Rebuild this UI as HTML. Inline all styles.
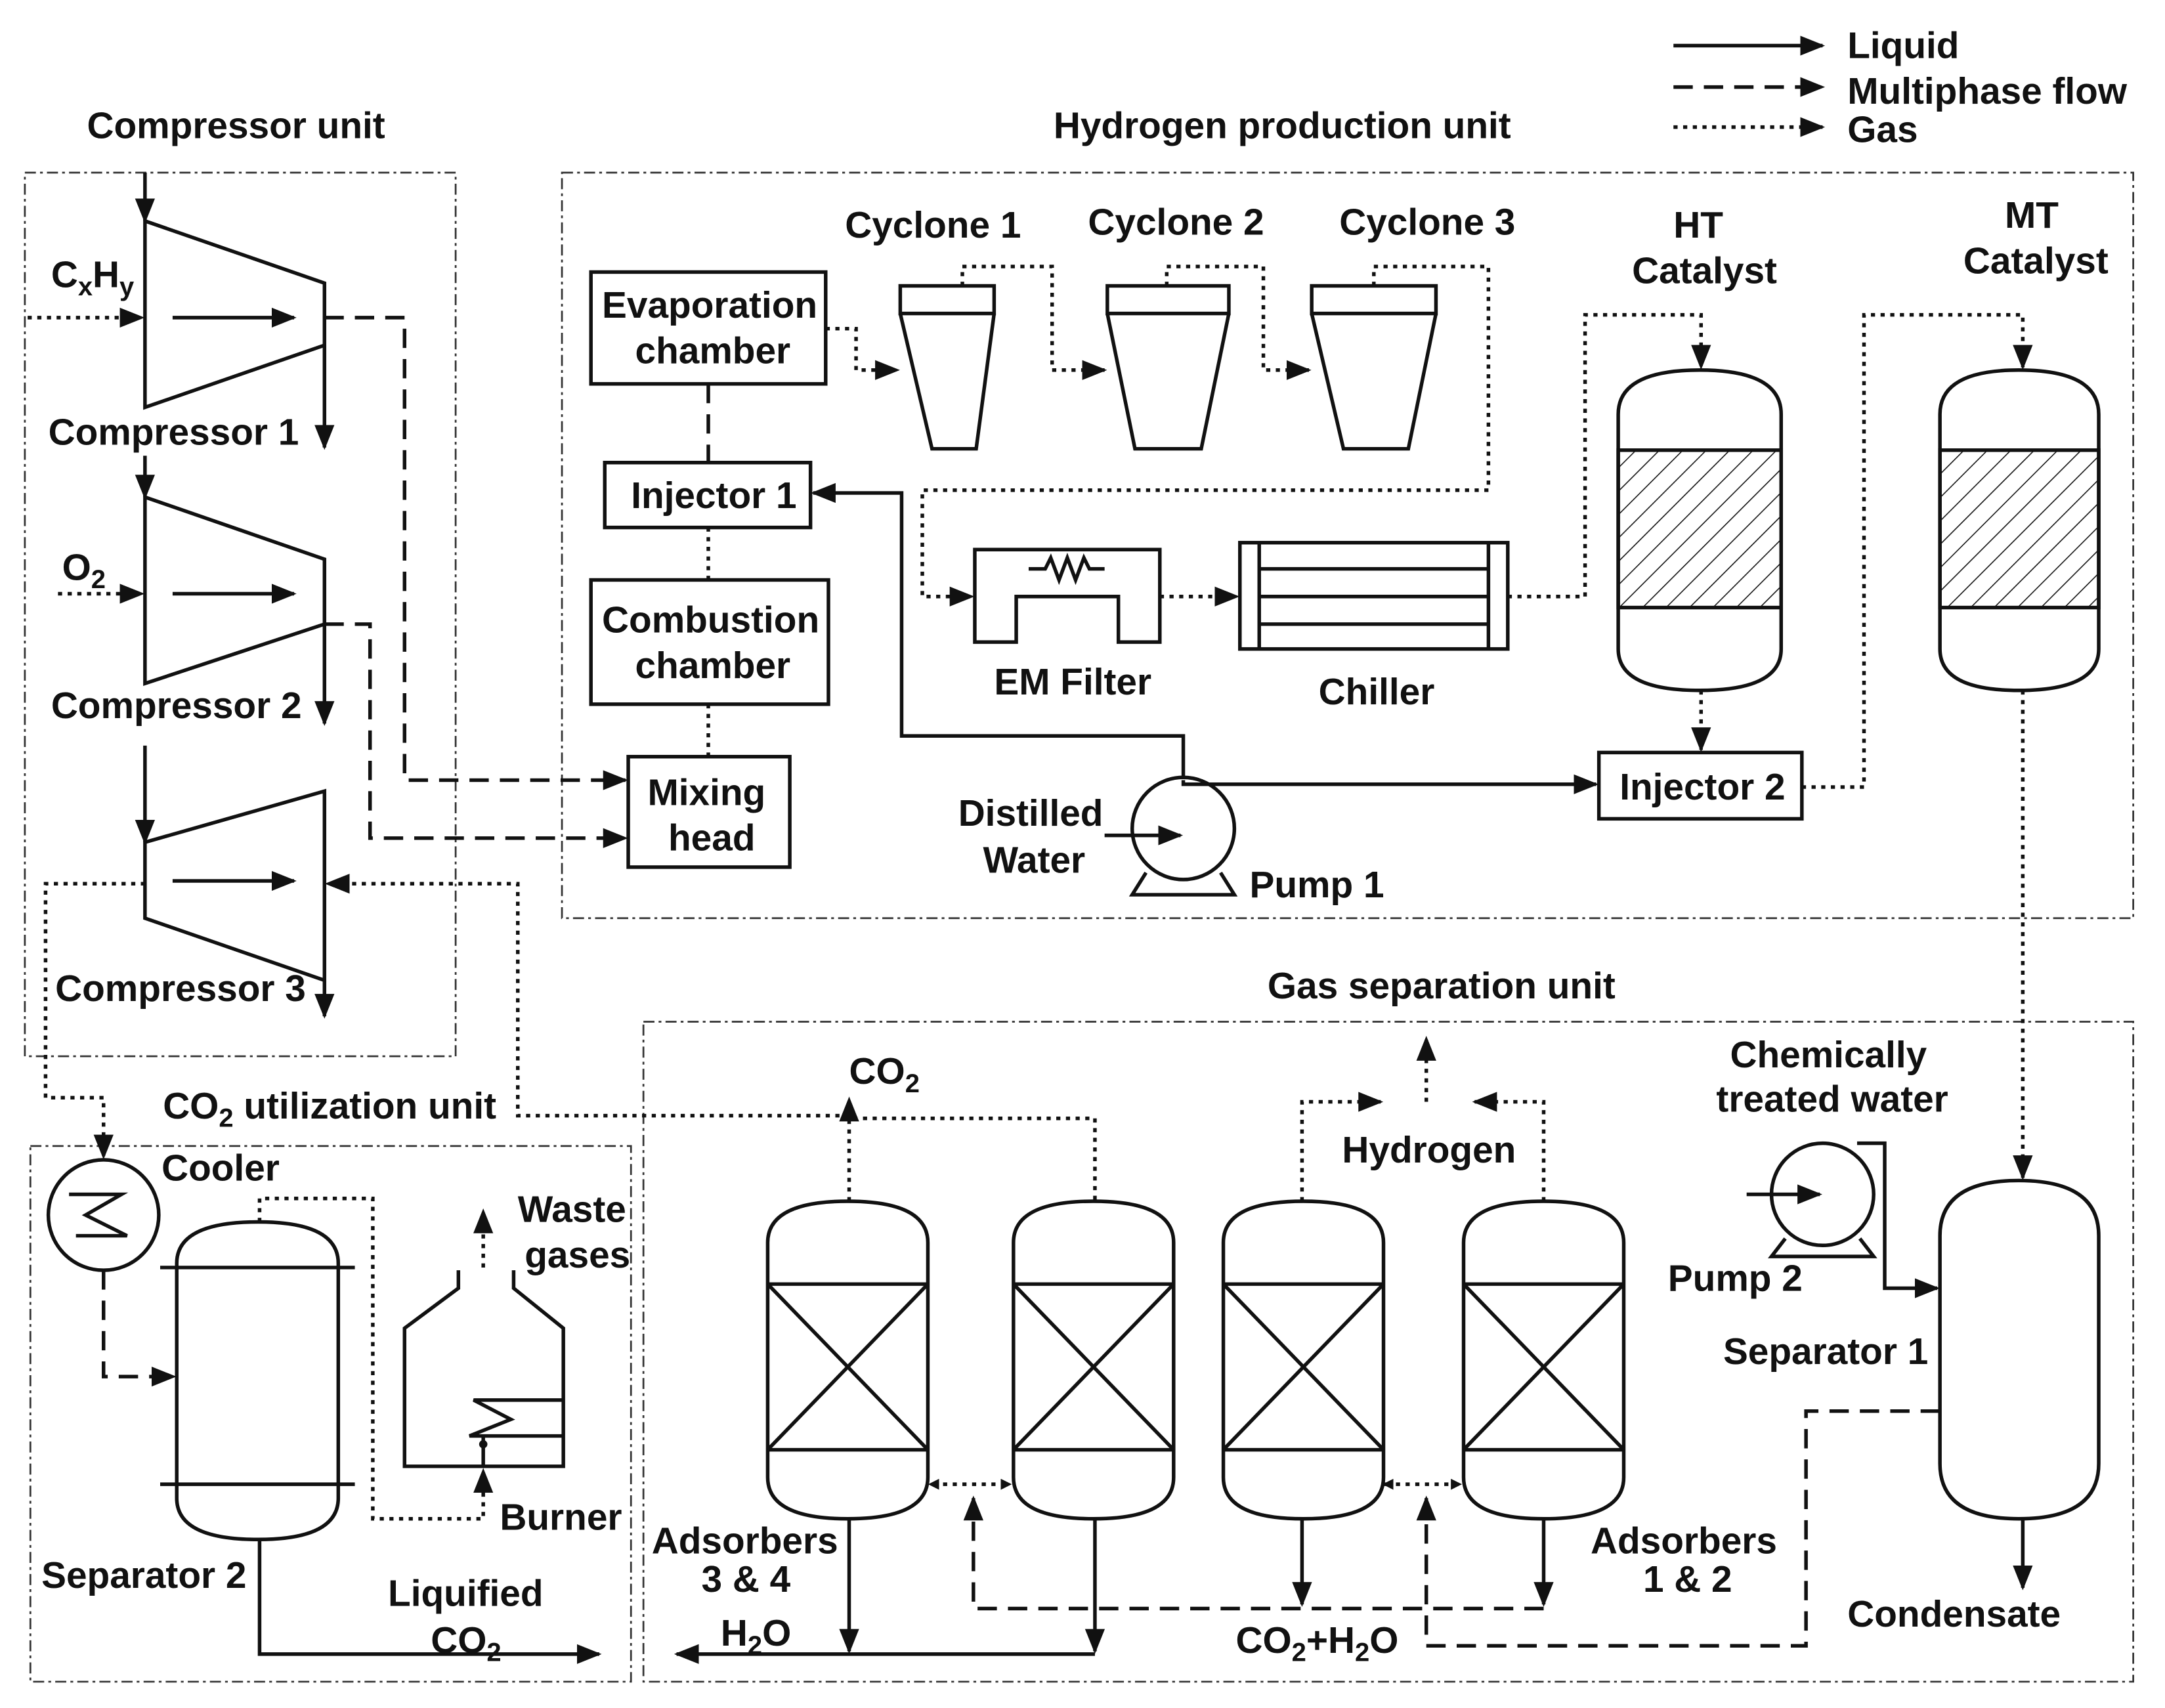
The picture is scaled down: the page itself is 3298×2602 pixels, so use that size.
<!DOCTYPE html>
<html><head><meta charset="utf-8"><style>
html,body{margin:0;padding:0;background:#fff}
svg{display:block}
text{font-family:"Liberation Sans",Arial,sans-serif;font-weight:bold;font-size:27px;fill:#111}
.s{stroke:#111;stroke-width:2.6;fill:none}
.d{stroke:#111;stroke-width:2.6;fill:none;stroke-dasharray:14 8}
.g{stroke:#111;stroke-width:2.6;fill:none;stroke-dasharray:3 4}
.b{stroke:#333;stroke-width:1.3;fill:none;stroke-dasharray:8 3 2 3}
.w{stroke:#111;stroke-width:2.6;fill:#fff}
</style></head><body>
<svg width="3298" height="2602" viewBox="0 0 1568 1237" xmlns="http://www.w3.org/2000/svg">
<defs>
<marker id="a" viewBox="0 0 10 10" refX="9" refY="5" markerWidth="8" markerHeight="8" markerUnits="userSpaceOnUse" orient="auto"><path d="M0,0 L10,5 L0,10 z" fill="#111"/></marker>
<marker id="A" viewBox="0 0 10 10" refX="9" refY="5" markerWidth="18" markerHeight="18" markerUnits="userSpaceOnUse" orient="auto"><path d="M0,1 L10,5 L0,9 z" fill="#111"/></marker>
<pattern id="h" width="12" height="12" patternUnits="userSpaceOnUse" patternTransform="rotate(45)"><line x1="0" y1="0" x2="0" y2="12" stroke="#111" stroke-width="1.5"/></pattern>
</defs>
<!-- legend -->
<line class="s" x1="1212" y1="33" x2="1320" y2="33" marker-end="url(#A)"/>
<line class="d" x1="1212" y1="63" x2="1320" y2="63" marker-end="url(#A)"/>
<line class="g" x1="1212" y1="92" x2="1320" y2="92" marker-end="url(#A)"/>
<text x="1338" y="42">Liquid</text><text x="1338" y="75">Multiphase flow</text><text x="1338" y="103">Gas</text>
<!-- unit boxes -->
<text x="63" y="100">Compressor unit</text>
<text x="763" y="100">Hydrogen production unit</text>
<text x="918" y="723">Gas separation unit</text>
<text x="118" y="810">CO<tspan font-size="19" dy="6">2</tspan><tspan dy="-6"> utilization unit</tspan></text>
<rect class="b" x="18" y="125" width="312" height="640"/>
<rect class="b" x="407" y="125" width="1138" height="540"/>
<rect class="b" x="466" y="740" width="1079" height="478"/>
<rect class="b" x="22" y="830" width="435" height="388"/>
<!-- compressor 1 -->
<path class="s" d="M105,160 L235,205 L235,250 L105,295 Z"/>
<line class="s" x1="105" y1="125" x2="105" y2="160" marker-end="url(#A)"/>
<line class="g" x1="20" y1="230" x2="103" y2="230" marker-end="url(#A)"/>
<line class="s" x1="125" y1="230" x2="213" y2="230" marker-end="url(#A)"/>
<line class="s" x1="235" y1="250" x2="235" y2="324" marker-end="url(#A)"/>
<text x="37" y="208">C<tspan font-size="19" dy="6">x</tspan><tspan dy="-6">H</tspan><tspan font-size="19" dy="6">y</tspan></text>
<text x="35" y="322">Compressor 1</text>
<path class="d" d="M235,230 H293 V565 H453" marker-end="url(#A)"/>
<!-- compressor 2 -->
<path class="s" d="M105,360 L235,405 L235,452 L105,495 Z"/>
<line class="s" x1="105" y1="330" x2="105" y2="360" marker-end="url(#A)"/>
<line class="g" x1="42" y1="430" x2="103" y2="430" marker-end="url(#A)"/>
<line class="s" x1="125" y1="430" x2="213" y2="430" marker-end="url(#A)"/>
<line class="s" x1="235" y1="452" x2="235" y2="524" marker-end="url(#A)"/>
<text x="45" y="420">O<tspan font-size="19" dy="6">2</tspan></text>
<text x="37" y="520">Compressor 2</text>
<path class="d" d="M235,452 H268 V607 H453" marker-end="url(#A)"/>
<!-- compressor 3 -->
<path class="s" d="M105,610 L235,573 L235,710 L105,665 Z"/>
<line class="s" x1="105" y1="540" x2="105" y2="610" marker-end="url(#A)"/>
<line class="s" x1="125" y1="638" x2="213" y2="638" marker-end="url(#A)"/>
<line class="s" x1="235" y1="710" x2="235" y2="736" marker-end="url(#A)"/>
<text x="40" y="725">Compressor 3</text>
<path class="g" d="M615,808 H375 V640 H237" marker-end="url(#A)"/>
<path class="g" d="M105,640 H33 V795 H75 V838" marker-end="url(#A)"/>
<!-- hydrogen unit -->
<rect class="s" x="428" y="197" width="170" height="81"/>
<text x="436" y="230">Evaporation</text><text x="460" y="263">chamber</text>
<line class="d" x1="513" y1="278" x2="513" y2="335"/>
<rect class="s" x="438" y="335" width="149" height="47"/>
<text x="457" y="368">Injector 1</text>
<line class="g" x1="513" y1="382" x2="513" y2="420"/>
<rect class="s" x="428" y="420" width="172" height="90"/>
<text x="436" y="458">Combustion</text><text x="460" y="491">chamber</text>
<line class="g" x1="513" y1="510" x2="513" y2="548"/>
<rect class="s" x="455" y="548" width="117" height="80"/>
<text x="469" y="583">Mixing</text><text x="484" y="616">head</text>
<path class="g" d="M598,238 H620 V268 H650" marker-end="url(#A)"/>
<!-- cyclones -->
<rect class="s" x="652" y="207" width="68" height="20"/>
<path class="s" d="M652,227 L675,325 H707 L720,227"/>
<rect class="s" x="802" y="207" width="88" height="20"/>
<path class="s" d="M802,227 L822,325 H870 L890,227"/>
<rect class="s" x="950" y="207" width="90" height="20"/>
<path class="s" d="M950,227 L973,325 H1020 L1040,227"/>
<path class="g" d="M697,207 V193 H762 V268 H800" marker-end="url(#A)"/>
<path class="g" d="M845,207 V193 H915 V268 H948" marker-end="url(#A)"/>
<path class="g" d="M995,207 V193 H1078 V355 H668 V432 H704" marker-end="url(#A)"/>
<text x="612" y="172">Cyclone 1</text><text x="788" y="170">Cyclone 2</text><text x="970" y="170">Cyclone 3</text>
<!-- EM filter -->
<path class="s" d="M706,398 H840 V465 H810 V432 H736 V465 H706 Z"/>
<path class="s" stroke-width="2" d="M745,412 H757 L761,404 L767,420 L773,404 L779,420 L785,404 L789,412 H800"/>
<text x="720" y="503">EM Filter</text>
<line class="g" x1="840" y1="432" x2="896" y2="432" marker-end="url(#A)"/>
<rect class="s" x="898" y="393" width="194" height="77"/>
<line class="s" x1="912" y1="393" x2="912" y2="470"/><line class="s" x1="1078" y1="393" x2="1078" y2="470"/>
<line class="s" x1="912" y1="412" x2="1078" y2="412"/><line class="s" x1="912" y1="432" x2="1078" y2="432"/><line class="s" x1="912" y1="452" x2="1078" y2="452"/>
<text x="955" y="510">Chiller</text>
<path class="g" d="M1092,432 H1148 V228 H1232 V266" marker-end="url(#A)"/>
<!-- HT catalyst -->
<path class="s" d="M1172,300 Q1172,268 1231,268 Q1290,268 1290,300 V470 Q1290,500 1231,500 Q1172,500 1172,470 Z"/>
<rect x="1172" y="326" width="118" height="114" fill="url(#h)" stroke="#111" stroke-width="2.6"/>
<text x="1212" y="172">HT</text><text x="1182" y="205">Catalyst</text>
<line class="g" x1="1232" y1="500" x2="1232" y2="543" marker-end="url(#A)"/>
<rect class="s" x="1158" y="545" width="147" height="48"/>
<text x="1173" y="579">Injector 2</text>
<path class="g" d="M1305,570 H1350 V228 H1465 V266" marker-end="url(#A)"/>
<!-- MT catalyst -->
<path class="s" d="M1405,300 Q1405,268 1462,268 Q1520,268 1520,300 V470 Q1520,500 1462,500 Q1405,500 1405,470 Z"/>
<rect x="1405" y="326" width="115" height="114" fill="url(#h)" stroke="#111" stroke-width="2.6"/>
<text x="1452" y="165">MT</text><text x="1422" y="198">Catalyst</text>
<line class="g" x1="1465" y1="500" x2="1465" y2="853" marker-end="url(#A)"/>
<!-- pump 1 -->
<path class="s" d="M857,565 V533 H653 V357 H589" marker-end="url(#A)"/>
<path class="s" d="M830,632 L820,648 H894 L884,632"/>
<circle class="w" cx="857" cy="600" r="37"/>
<line class="s" x1="800" y1="605" x2="855" y2="605" marker-end="url(#A)"/>
<path class="s" d="M857,565 V568 H1156" marker-end="url(#A)"/>
<text x="694" y="598">Distilled</text><text x="712" y="632">Water</text>
<text x="905" y="650">Pump 1</text>
<!-- adsorbers -->
<g id="ad">
<path class="s" d="M556,900 Q556,870 614,870 Q672,870 672,900 V1070 Q672,1100 614,1100 Q556,1100 556,1070 Z"/>
<line class="s" x1="556" y1="930" x2="672" y2="930"/><line class="s" x1="556" y1="1050" x2="672" y2="1050"/>
<line class="s" x1="556" y1="930" x2="672" y2="1050"/><line class="s" x1="672" y1="930" x2="556" y2="1050"/>
</g>
<use href="#ad" x="178"/><use href="#ad" x="330"/><use href="#ad" x="504"/>
<path class="g" d="M615,870 V810 H793 V870"/>
<line class="g" x1="615" y1="810" x2="615" y2="796" marker-end="url(#A)"/>
<text x="615" y="785">CO<tspan font-size="19" dy="6">2</tspan></text>
<path class="g" d="M943,870 V798 H1000" marker-end="url(#A)"/>
<path class="g" d="M1118,870 V798 H1068" marker-end="url(#A)"/>
<line class="g" x1="1033" y1="798" x2="1033" y2="752" marker-end="url(#A)"/>
<text x="972" y="842">Hydrogen</text>
<line class="g" x1="678" y1="1075" x2="673" y2="1075" marker-end="url(#a)"/>
<line class="g" x1="676" y1="1075" x2="732" y2="1075" marker-end="url(#a)"/>
<line class="g" x1="1004" y1="1075" x2="1002" y2="1075" marker-end="url(#a)"/>
<line class="g" x1="1004" y1="1075" x2="1058" y2="1075" marker-end="url(#a)"/>
<line class="s" x1="615" y1="1100" x2="615" y2="1196" marker-end="url(#A)"/>
<line class="s" x1="793" y1="1100" x2="793" y2="1196" marker-end="url(#A)"/>
<line class="s" x1="793" y1="1198" x2="490" y2="1198" marker-end="url(#A)"/>
<line class="s" x1="943" y1="1100" x2="943" y2="1162" marker-end="url(#A)"/>
<line class="s" x1="1118" y1="1100" x2="1118" y2="1162" marker-end="url(#A)"/>
<text x="522" y="1192">H<tspan font-size="19" dy="6">2</tspan><tspan dy="-6">O</tspan></text>
<text x="472" y="1125">Adsorbers</text><text x="508" y="1153">3 &amp; 4</text>
<text x="1152" y="1125">Adsorbers</text><text x="1190" y="1153">1 &amp; 2</text>
<text x="895" y="1197">CO<tspan font-size="19" dy="6">2</tspan><tspan dy="-6">+H</tspan><tspan font-size="19" dy="6">2</tspan><tspan dy="-6">O</tspan></text>
<path class="d" d="M1405,1022 H1308 V1192 H1033 V1085" marker-end="url(#A)"/>
<path class="d" d="M1118,1165 H705 V1085" marker-end="url(#A)"/>
<!-- pump 2 & separator 1 -->
<path class="s" d="M1293,897 L1283,910 H1357 L1347,897"/>
<circle class="w" cx="1320" cy="865" r="37"/>
<line class="s" x1="1265" y1="865" x2="1318" y2="865" marker-end="url(#A)"/>
<path class="s" d="M1345,828 H1365 V933 H1403" marker-end="url(#A)"/>
<text x="1253" y="773">Chemically</text><text x="1243" y="805">treated water</text>
<text x="1208" y="935">Pump 2</text>
<path class="s" d="M1405,895 Q1405,855 1462,855 Q1520,855 1520,895 V1060 Q1520,1100 1462,1100 Q1405,1100 1405,1060 Z"/>
<text x="1248" y="988">Separator 1</text>
<line class="s" x1="1465" y1="1100" x2="1465" y2="1150" marker-end="url(#A)"/>
<text x="1338" y="1178">Condensate</text>
<!-- CO2 utilization -->
<circle class="s" cx="75" cy="880" r="40"/>
<path class="s" d="M50,865 H88 L62,880 L92,895 H55"/>
<text x="117" y="855">Cooler</text>
<path class="d" d="M75,920 V997 H126" marker-end="url(#A)"/>
<path class="s" d="M128,915 Q128,885 187,885 Q245,885 245,915 V1085 Q245,1115 187,1115 Q128,1115 128,1085 Z"/>
<line class="s" x1="116" y1="918" x2="257" y2="918"/><line class="s" x1="116" y1="1075" x2="257" y2="1075"/>
<path class="g" d="M188,885 V868 H270 V1100 H350 V1065" marker-end="url(#A)"/>
<text x="30" y="1150">Separator 2</text>
<path class="s" d="M188,1115 V1198 H434" marker-end="url(#A)"/>
<text x="281" y="1163">Liquified</text><text x="312" y="1197">CO<tspan font-size="19" dy="6">2</tspan></text>
<path class="s" d="M332,920 V933 L293,962 V1062 H408 V962 L372,933 V920"/>
<path class="s" d="M408,1014 H343 L370,1028 L340,1040 H408"/>
<circle cx="350" cy="1046" r="3" fill="#111"/>
<line class="s" x1="350" y1="1040" x2="350" y2="1062"/>
<line class="g" x1="350" y1="918" x2="350" y2="877" marker-end="url(#A)"/>
<text x="375" y="885">Waste</text><text x="380" y="918">gases</text>
<text x="362" y="1108">Burner</text>
</svg>
</body></html>
